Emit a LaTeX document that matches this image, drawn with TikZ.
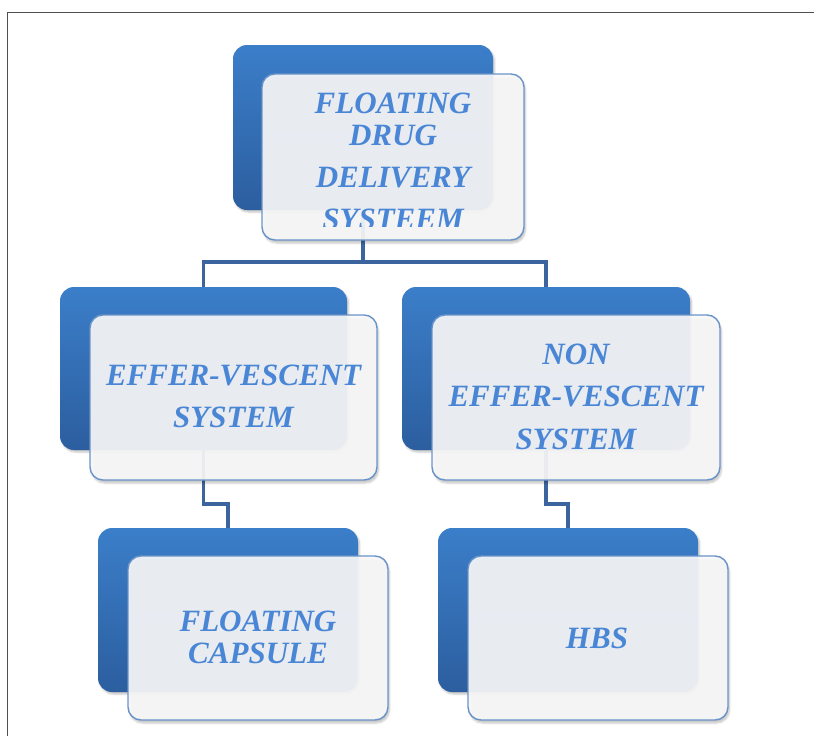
\documentclass[tikz,border=0pt]{standalone}
\usepackage{fontspec}
\setmainfont{Liberation Serif}
\usetikzlibrary{shadows.blur}

\definecolor{backtop}{HTML}{3B7EC9}
\definecolor{backbot}{HTML}{2C5E9F}
\definecolor{frontfill}{HTML}{F9F9FA}
\definecolor{frontedge}{HTML}{6A93C8}
\definecolor{linkcol}{HTML}{3C659F}
\definecolor{labelcol}{HTML}{4A86D6}
\definecolor{framecol}{HTML}{505050}

\tikzset{
  backbox/.style={rounded corners=14pt, top color=backtop, bottom color=backbot,
    draw=none, inner sep=0pt, outer sep=0pt,
    blur shadow={shadow xshift=1.5pt, shadow yshift=-2pt, shadow opacity=25, shadow blur steps=4}},
  frontbox/.style={rounded corners=13pt, fill=frontfill, fill opacity=0.92,
    draw=frontedge, draw opacity=1, line width=1.4pt, inner sep=0pt, outer sep=0pt,
    blur shadow={shadow xshift=1.5pt, shadow yshift=-3pt, shadow opacity=25, shadow blur steps=5}},
  label/.style={text=labelcol, align=center, inner sep=0pt,
    font=\fontsize{31}{32}\selectfont\bfseries\itshape},
  link/.style={draw=linkcol, line width=3.4pt},
}

\begin{document}
\begin{tikzpicture}[x=1pt, y=-1pt]
\useasboundingbox (0,0) rectangle (814,736);

% page frame
\draw[framecol, line width=1.8pt] (7.5,736) -- (7.5,12.5) -- (814,12.5);

% back (blue) panels
\node[backbox, minimum width=260pt, minimum height=165pt] (backA) at (363,127.5) {};
\node[backbox, minimum width=287pt, minimum height=163pt] (backB) at (203.5,368.5) {};
\node[backbox, minimum width=288pt, minimum height=163pt] (backC) at (546,368.5) {};
\node[backbox, minimum width=260pt, minimum height=164pt] (backD) at (228,610) {};
\node[backbox, minimum width=260pt, minimum height=164pt] (backE) at (568,610) {};

% connectors
\coordinate (jA) at (363,262);
\coordinate (jB) at (203.5,504);
\coordinate (jC) at (546,504);
\draw[link] (backA.south) -- (jA) -| (backB.north);
\draw[link] (jA) -| (backC.north);
\draw[link] (backB.south) -- (jB) -| (backD.north);
\draw[link] (backC.south) -- (jC) -| (backE.north);

% front (translucent) panels
\node[frontbox, minimum width=262pt, minimum height=166pt] (frontA) at (393,157) {};
\node[frontbox, minimum width=287pt, minimum height=165pt] (frontB) at (233.5,397.5) {};
\node[frontbox, minimum width=288pt, minimum height=165pt] (frontC) at (576,397.5) {};
\node[frontbox, minimum width=260pt, minimum height=164pt] (frontD) at (258,638) {};
\node[frontbox, minimum width=260pt, minimum height=164pt] (frontE) at (598,638) {};

% labels
\begin{scope}
  \clip (250,70) rectangle (540,226);
  \node[label] (textA) at (393,161) {FLOATING\\DRUG\\[10pt]DELIVERY\\[10pt]SYSTEEM};
\end{scope}
\node[label] (textB) at (233.5,396) {EFFER-VESCENT\\[10pt]SYSTEM};
\node[label] (textC) at (576,397) {NON\\[10pt]EFFER-VESCENT\\[11pt]SYSTEM};
\node[label] (textD) at (258,637) {FLOATING\\CAPSULE};
\node[label] (textE) at (597,638) {HBS};
\end{tikzpicture}
\end{document}
